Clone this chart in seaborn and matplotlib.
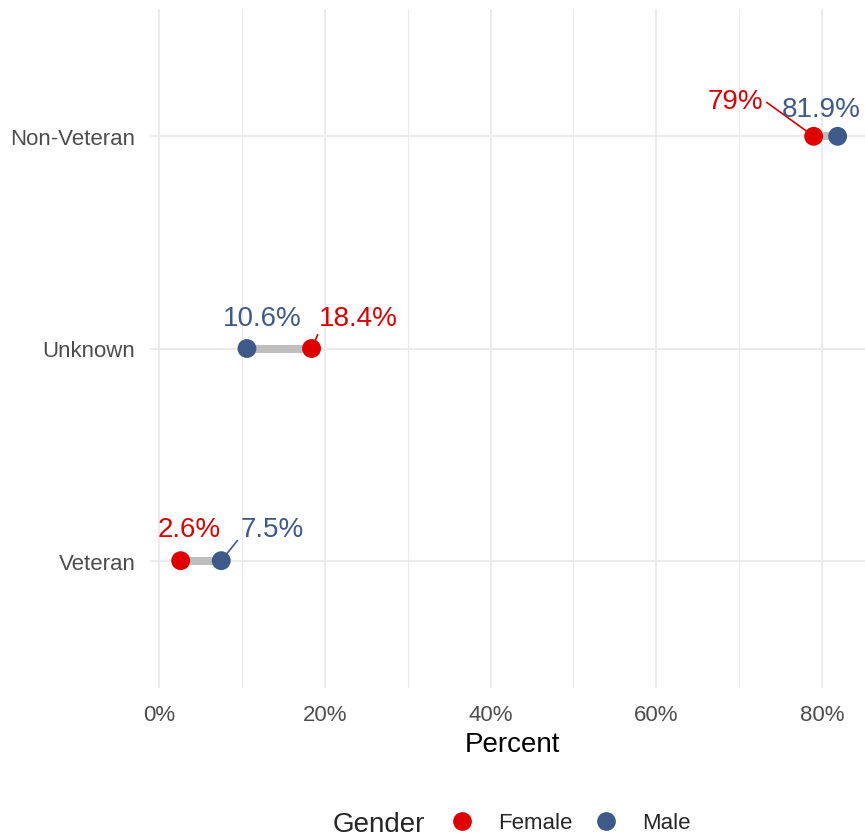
import matplotlib
matplotlib.use('Agg')
import matplotlib.pyplot as plt
import numpy as np
import pandas as pd
import seaborn as sb
from matplotlib.lines import Line2D
from matplotlib.ticker import PercentFormatter, MultipleLocator

# данные
statuses = ['Non-Veteran', 'Unknown', 'Veteran']
female = [79.0, 18.4, 2.6]
male = [81.9, 10.6, 7.5]
genders = ['Female', 'Male']
colors = {'Female': '#E00000', 'Male': '#3E5A8B'}

# сдвиги подписей в пикселях (как у ggrepel): dx, dy, точка начала отрезка или None
label_offsets = {
    ('Non-Veteran', 'Female'): (-78, 35, (1.0, 0.55)),
    ('Non-Veteran', 'Male'): (-16, 27, None),
    ('Unknown', 'Female'): (47, 30, (0.03, 0.2)),
    ('Unknown', 'Male'): (15, 30, None),
    ('Veteran', 'Female'): (9, 32, None),
    ('Veteran', 'Male'): (51, 32, (0.0, 0.2)),
}

ypos = {s: len(statuses) - 1 - i for i, s in enumerate(statuses)}
df = pd.DataFrame({
    'status': statuses * 2,
    'gender': ['Female'] * 3 + ['Male'] * 3,
    'percent': female + male,
})
df['y'] = df['status'].map(ypos)

sb.set_theme(style='white')
plt.rcParams['font.family'] = ['Liberation Sans', 'DejaVu Sans']

fig = plt.figure(figsize=(8.65, 8.37), dpi=100)
ax = fig.add_axes([150 / 865, 1 - 689 / 837, 1 - 150 / 865, (689 - 10) / 837])

# серые отрезки между точками
ax.hlines(y=[ypos[s] for s in statuses], xmin=np.minimum(female, male), xmax=np.maximum(female, male),
          color='#BEBEBE', linewidth=5.8, zorder=2)

sb.scatterplot(data=df, x='percent', y='y', hue='gender', palette=colors, hue_order=genders,
               s=185, linewidth=0, ax=ax, zorder=3, legend=False)

for _, row in df.iterrows():
    dx, dy, rel = label_offsets[(row['status'], row['gender'])]
    arrow = None
    if rel is not None:
        arrow = dict(arrowstyle='-', color=colors[row['gender']], lw=1.2, shrinkA=0, shrinkB=6,
                     relpos=rel)
    ax.annotate(f"{row['percent']:g}%", xy=(row['percent'], row['y']), xytext=(dx, dy),
                textcoords='offset pixels', ha='center', va='center', fontsize=20,
                color=colors[row['gender']], arrowprops=arrow, zorder=4)

ax.set_xlim(-1.1, 85.2)
ax.set_ylim(-0.6, 2.6)
ax.xaxis.set_major_locator(MultipleLocator(20))
ax.xaxis.set_minor_locator(MultipleLocator(10))
ax.xaxis.set_major_formatter(PercentFormatter(decimals=0))
ax.set_yticks([ypos[s] for s in statuses])
ax.set_yticklabels(statuses)
ax.grid(True, which='major', color='#EBEBEB', linewidth=1.5, zorder=0)
ax.grid(True, which='minor', axis='x', color='#EBEBEB', linewidth=0.8, zorder=0)
ax.set_axisbelow(True)
for sp in ax.spines.values():
    sp.set_visible(False)
ax.tick_params(axis='both', which='both', length=0, labelsize=16, labelcolor='#4D4D4D')
ax.tick_params(axis='x', pad=11.5)
ax.tick_params(axis='y', pad=10.5)
ax.set_xlabel('Percent', fontsize=20, color='black')
ax.xaxis.set_label_coords((512.5 - 150) / 715, -(732 - 689) / 679)
ax.set_ylabel('')

# легенда снизу
handles = [Line2D([], [], marker='o', linestyle='', markersize=13.5, markerfacecolor=colors[g],
                  markeredgewidth=0, label=g) for g in genders]
fig.text(333 / 865, 1 - 825 / 837, 'Gender', fontsize=20, va='center', ha='left')
fig.legend(handles=handles, loc='center left', bbox_to_anchor=(451 / 865, 1 - 824 / 837),
           ncol=2, frameon=False, fontsize=16, handlelength=1.0, handletextpad=1.1,
           columnspacing=1.05, borderpad=0, borderaxespad=0)

fig.savefig('out.png', dpi=100)
